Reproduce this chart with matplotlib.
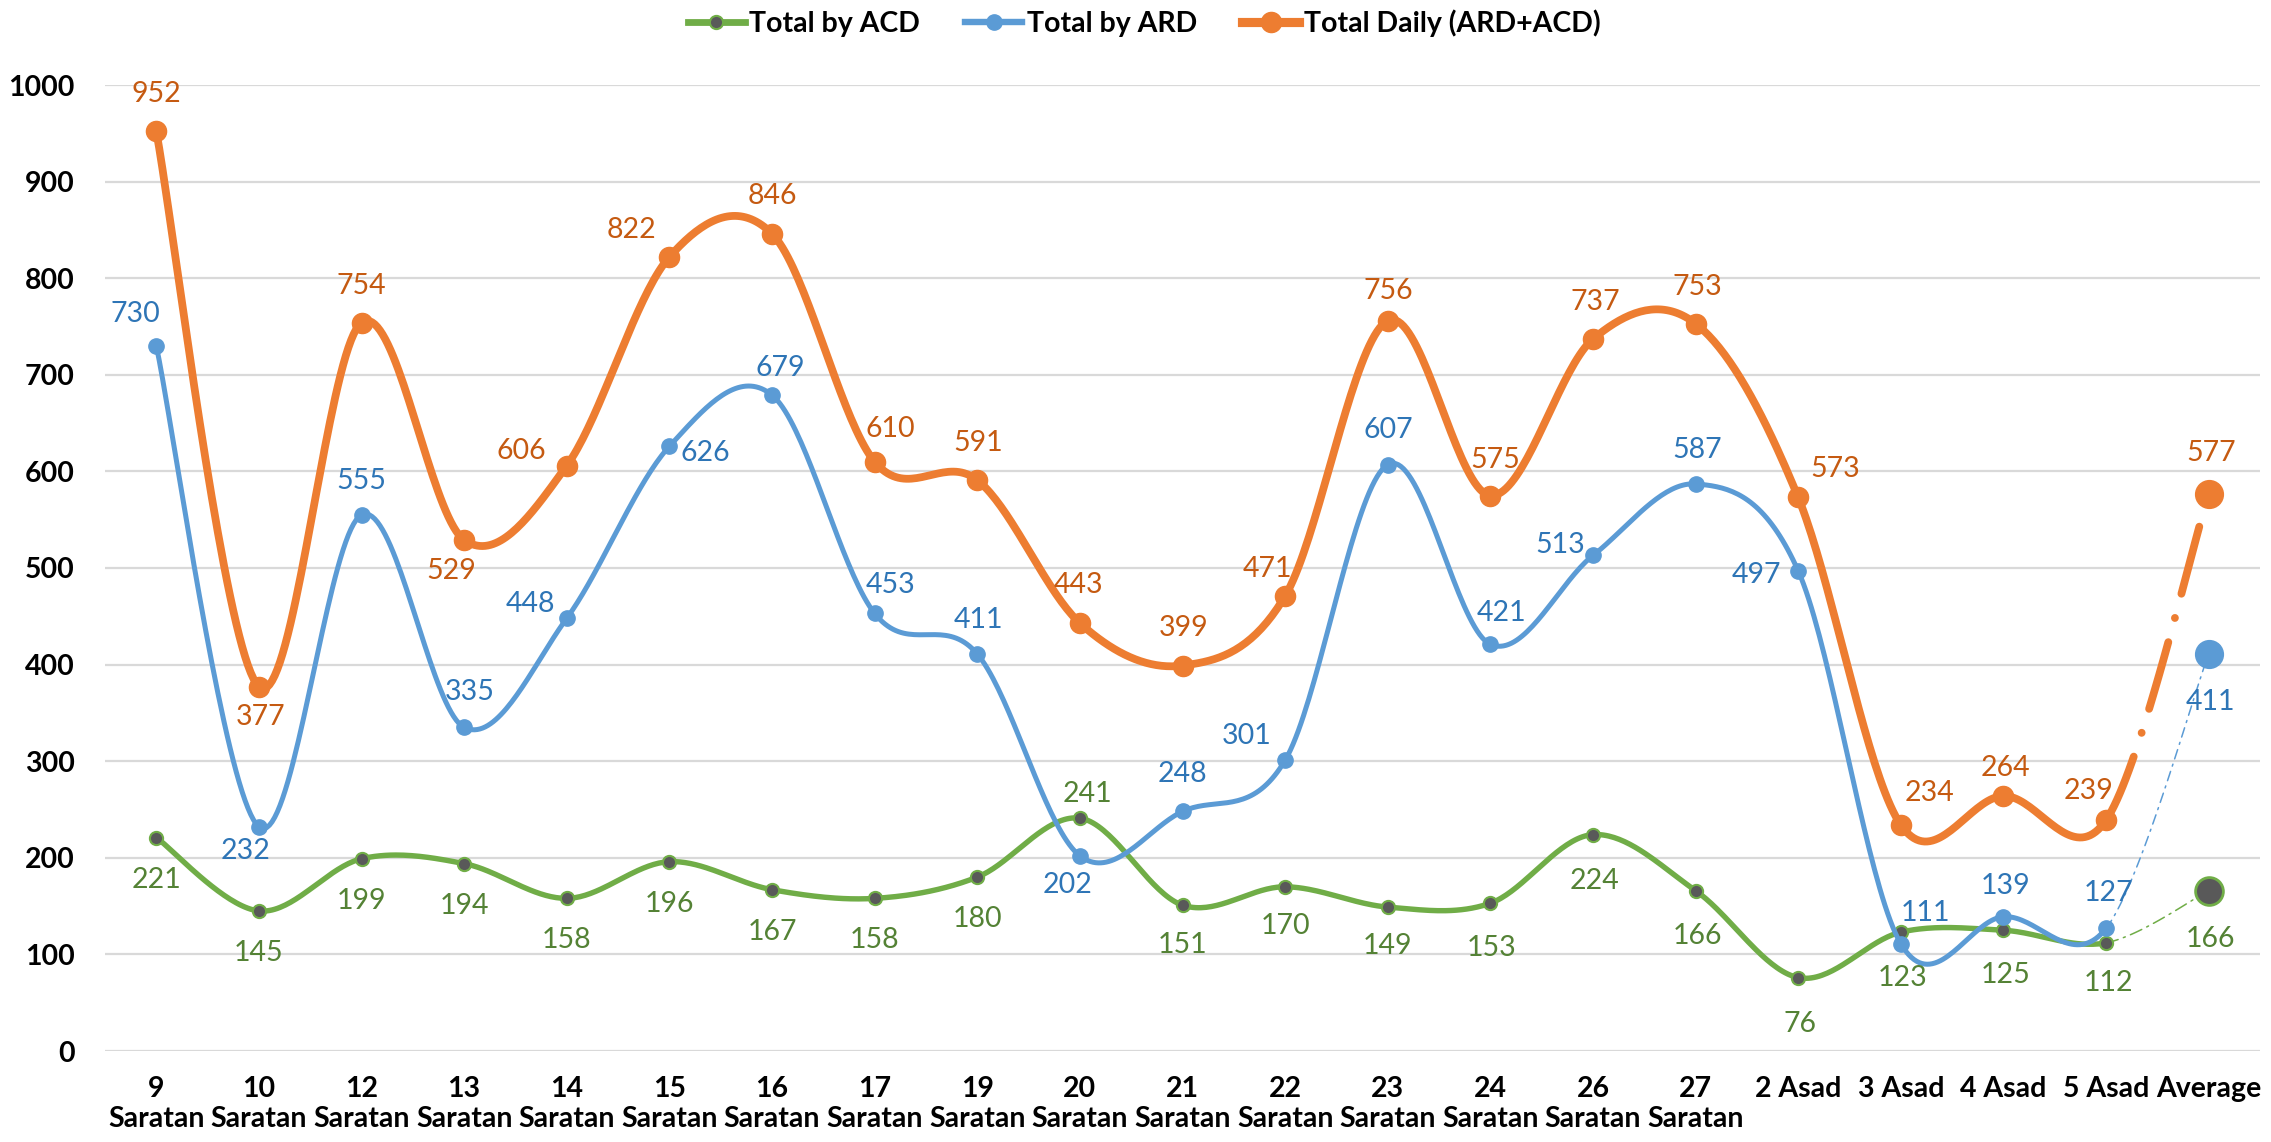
import numpy as np
import matplotlib
matplotlib.use('Agg')
import matplotlib.pyplot as plt
from matplotlib.lines import Line2D

plt.rcParams['font.family'] = ['Lato', 'DejaVu Sans']
plt.rcParams['lines.scale_dashes'] = False

categories = ['9\nSaratan', '10\nSaratan', '12\nSaratan', '13\nSaratan', '14\nSaratan',
              '15\nSaratan', '16\nSaratan', '17\nSaratan', '19\nSaratan', '20\nSaratan',
              '21\nSaratan', '22\nSaratan', '23\nSaratan', '24\nSaratan', '26\nSaratan',
              '27\nSaratan', '2 Asad', '3 Asad', '4 Asad', '5 Asad', 'Average']
acd = [221, 145, 199, 194, 158, 196, 167, 158, 180, 241, 151, 170, 149, 153, 224, 166, 76, 123, 125, 112, 166]
ard = [730, 232, 555, 335, 448, 626, 679, 453, 411, 202, 248, 301, 607, 421, 513, 587, 497, 111, 139, 127, 411]
total = [952, 377, 754, 529, 606, 822, 846, 610, 591, 443, 399, 471, 756, 575, 737, 753, 573, 234, 264, 239, 577]
series_names = ['Total by ACD', 'Total by ARD', 'Total Daily (ARD+ACD)']

# label offsets in pixels (dx, dy; dy positive = downward)
off_total = [(0, -37), (2, 30), (0, -37), (-13, 31), (-45, -15), (-38, -27), (0, -38), (16, -33),
             (1, -37), (-1, -38), (1, -38), (-18, -27), (1, -30), (5, -36), (2, -37), (2, -37),
             (37, -28), (29, -32), (2, -28), (-18, -29), (2, -41)]
off_ard = [(-21, -32), (-13, 24), (0, -34), (6, -35), (-36, -14), (36, 7), (8, -27), (16, -28),
           (1, -34), (-12, 29), (0, -37), (-38, -24), (1, -35), (11, -31), (-33, -10), (2, -34),
           (-42, 4), (25, -31), (2, -31), (2, -35), (2, 48)]
off_acd = [(0, 42)] * 9 + [(8, -24), (0, 40), (0, 39), (0, 39), (1, 45), (2, 46), (2, 45),
                          (2, 46), (2, 46), (2, 45), (2, 40), (2, 48)]

W, H = 2271, 1142
fig = plt.figure(figsize=(W / 100, H / 100), dpi=100)
ax = fig.add_axes([105 / W, 1 - 1051 / H, (2260 - 105) / W, (1051 - 85) / H])
ax.set_xlim(-0.5, 20.5)
ax.set_ylim(0, 1000)
for s in ax.spines.values():
    s.set_visible(False)
ax.set_yticks(np.arange(0, 1001, 100))
ax.yaxis.grid(True, color='#D9D9D9', lw=1.6)
ax.set_axisbelow(True)
ax.tick_params(length=0)
ax.tick_params(axis='y', pad=22)
ax.tick_params(axis='x', pad=18)
x = np.arange(len(categories))
ax.set_xticks(x)
ax.set_xticklabels(categories, fontsize=20.5, fontweight='bold', linespacing=1.2)
for lab in ax.get_yticklabels():
    lab.set_fontsize(20.5)
    lab.set_fontweight('bold')


def smooth(xs, ys, steps=40):
    P = np.column_stack([xs, ys]).astype(float)
    n = len(P)
    segs = []
    t = np.linspace(0, 1, steps)[:, None]
    for i in range(n - 1):
        p0 = P[i - 1] if i > 0 else P[i]
        p1 = P[i]
        p2 = P[i + 1]
        p3 = P[i + 2] if i + 2 < n else P[i + 1]
        c1 = p1 + (p2 - p0) / 6
        c2 = p2 - (p3 - p1) / 6
        b = (1 - t) ** 3 * p1 + 3 * (1 - t) ** 2 * t * c1 + 3 * (1 - t) * t ** 2 * c2 + t ** 3 * p2
        segs.append(b)
    return segs


specs = [
    dict(vals=acd, color='#70AD47', lw=3.9, ms=9.5, mfc='#595959', mec='#70AD47', mew=1.5,
         avg_ms=20, txt='#548235', offs=off_acd, dash=(0, (9, 4, 1.5, 4)), dlw=1.1, z=3),
    dict(vals=ard, color='#5B9BD5', lw=3.6, ms=11, mfc='#5B9BD5', mec='#5B9BD5', mew=1,
         avg_ms=20, txt='#2E75B6', offs=off_ard, dash=(0, (7, 4, 1.5, 4)), dlw=1.1, z=4),
    dict(vals=total, color='#ED7D31', lw=5.6, ms=14.5, mfc='#ED7D31', mec='#ED7D31', mew=1,
         avg_ms=20, txt='#C55A11', offs=off_total, dash=(0, (50, 18, 0.1, 18)), dlw=5.6, z=5),
]

for sp in specs:
    segs = smooth(x, sp['vals'])
    solid = np.vstack(segs[:-1])
    ax.plot(solid[:, 0], solid[:, 1], color=sp['color'], lw=sp['lw'], zorder=sp['z'],
            solid_capstyle='round', solid_joinstyle='round')
    last = segs[-1]
    ax.plot(last[:, 0], last[:, 1], color=sp['color'], lw=sp['dlw'], linestyle=sp['dash'],
            dash_capstyle='round', zorder=sp['z'])
    ax.plot(x[:-1], sp['vals'][:-1], linestyle='none', marker='o', ms=sp['ms'], mfc=sp['mfc'],
            mec=sp['mec'], mew=sp['mew'], zorder=sp['z'] + 0.1)
    ax.plot(x[-1:], sp['vals'][-1:], linestyle='none', marker='o', ms=sp['avg_ms'], mfc=sp['mfc'],
            mec=sp['mec'], mew=2 if sp['mfc'] != sp['mec'] else 1, zorder=sp['z'] + 0.1)
    for xi, v, (dx, dy) in zip(x, sp['vals'], sp['offs']):
        ax.annotate(str(v), (xi, v), xytext=(dx * 0.72, -dy * 0.72), textcoords='offset points',
                    ha='center', va='center', fontsize=20.5, color=sp['txt'], zorder=10,
                    annotation_clip=False)

handles = []
for sp, name in zip(specs, series_names):
    handles.append(Line2D([0], [0], color=sp['color'], lw=sp['lw'] + 1, marker='o', ms=sp['ms'],
                          mfc=sp['mfc'], mec=sp['mec'], mew=sp['mew'], label=name))
leg = fig.legend(handles=handles, loc='center', bbox_to_anchor=(1144 / W, 1 - 23 / H), ncol=3,
                 frameon=False, handlelength=2.0, handletextpad=0.15, columnspacing=1.6,
                 prop={'family': ['Lato', 'DejaVu Sans'], 'weight': 'bold', 'size': 20.5})

fig.savefig('out.png', dpi=100, facecolor='white')
